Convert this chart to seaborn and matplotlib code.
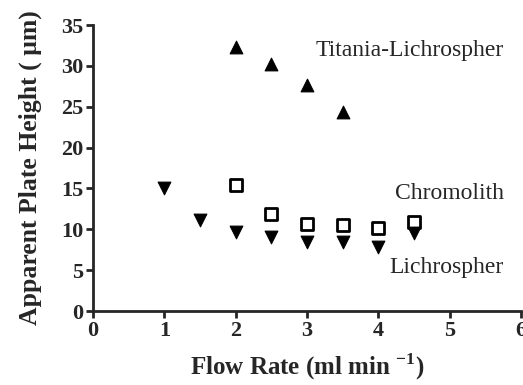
import matplotlib.pyplot as plt
import seaborn as sns

# data
titania_x = [2.0, 2.5, 3.0, 3.5]
titania_y = [32.3, 30.2, 27.7, 24.4]

chromolith_x = [2.0, 2.5, 3.0, 3.5, 4.0, 4.5]
chromolith_y = [15.4, 11.9, 10.7, 10.5, 10.2, 10.9]

lichro_x = [1.0, 1.5, 2.0, 2.5, 3.0, 3.5, 4.0, 4.5]
lichro_y = [15.0, 11.1, 9.7, 9.1, 8.4, 8.4, 7.9, 9.6]

sns.set_style("ticks")
plt.rcParams['font.family'] = ['Liberation Serif', 'DejaVu Serif']

fig = plt.figure(figsize=(5.23, 3.85), dpi=100)
ax = fig.add_axes([0.178, 0.192, 0.818, 0.743])

sns.scatterplot(x=titania_x, y=titania_y, marker='^', s=85, color='black',
                edgecolor='black', ax=ax)
sns.scatterplot(x=chromolith_x, y=chromolith_y, marker='s', s=65, facecolor='white',
                edgecolor='black', linewidth=2, ax=ax)
sns.scatterplot(x=lichro_x, y=lichro_y, marker='v', s=85, color='black',
                edgecolor='black', ax=ax)

ax.text(5.76, 31.9, "Titania-Lichrospher", ha='right', va='center', fontsize=17)
ax.text(5.76, 14.4, "Chromolith", ha='right', va='center', fontsize=17)
ax.text(5.76, 5.3, "Lichrospher", ha='right', va='center', fontsize=17)

ax.set_xlim(0, 6)
ax.set_ylim(0, 35)
ax.set_xticks(range(0, 7))
ax.set_yticks(range(0, 36, 5))
for lbl in ax.get_xticklabels() + ax.get_yticklabels():
    lbl.set_fontweight('bold')
ax.tick_params(labelsize=16, width=2, length=5, direction='out', pad=2)

sns.despine(ax=ax)
for sp in ['left', 'bottom']:
    ax.spines[sp].set_linewidth(2)

ax.set_xlabel("Flow Rate (ml min $^{\\mathregular{-1}}$)", fontsize=18, fontweight='bold', labelpad=8)
ax.set_ylabel("Apparent Plate Height ( \u03bcm)", fontsize=18.5, fontweight='bold', labelpad=14)

fig.savefig("out.png", dpi=100)
